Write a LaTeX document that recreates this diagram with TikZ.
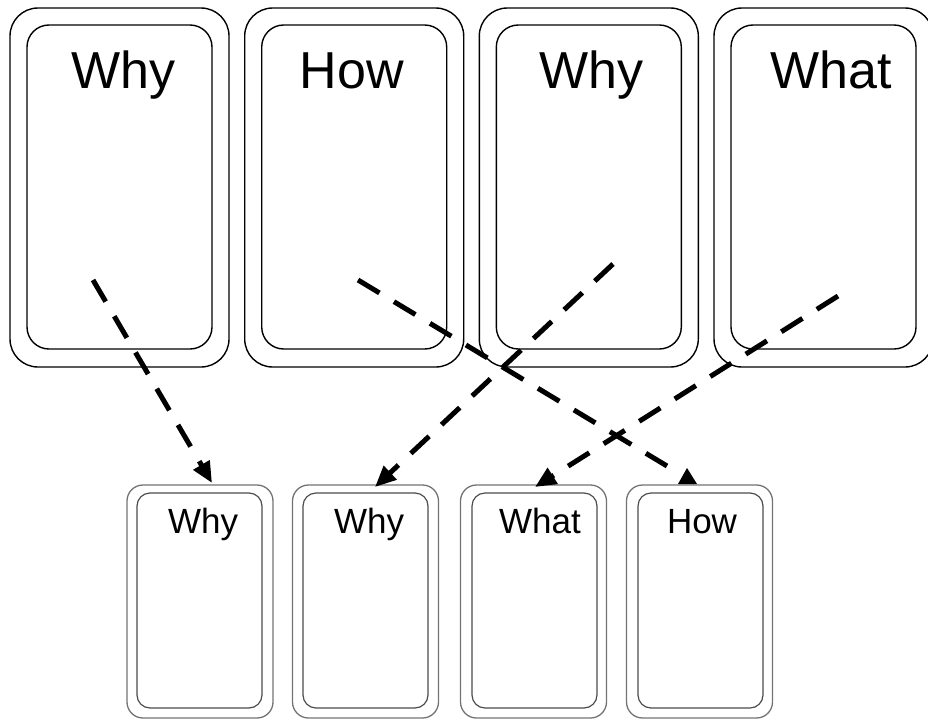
\documentclass[tikz,border=0pt]{standalone}
\usepackage{fontspec}
\setmainfont{Liberation Sans}
\usetikzlibrary{arrows.meta,calc}
\begin{document}
\begin{tikzpicture}[x=1pt,y=-1pt,
  bigouter/.style={draw, line width=1.4pt, rounded corners=28pt,
    minimum width=219pt, minimum height=359pt, inner sep=0pt},
  biginner/.style={draw, line width=1.4pt, rounded corners=22pt,
    minimum width=185pt, minimum height=324pt, inner sep=0pt},
  bigtext/.style={anchor=base, inner sep=0pt, font=\fontsize{52}{60}\selectfont},
  smallouter/.style={draw=black!55, line width=1.3pt, rounded corners=16pt,
    minimum width=146pt, minimum height=233pt, inner sep=0pt},
  smallinner/.style={draw=black!70, line width=1.2pt, rounded corners=13pt,
    minimum width=125pt, minimum height=215pt, inner sep=0pt},
  smalltext/.style={anchor=base, inner sep=0pt, font=\fontsize{35}{40}\selectfont},
  plainconn/.style={line width=5pt, dash pattern=on 25pt off 17pt},
  conn/.style={plainconn, -{Triangle[length=21pt,width=18pt]}}
]
\useasboundingbox (0,0) rectangle (928,720);

% upper row of cards
\node[bigouter] (T1o) at (119.5,187.5) {};
\node[biginner] (T1) at (119.5,187) {};
\node[bigtext] (T1l) at (123,88) {Why};

\node[bigouter] (T2o) at (354.2,187.5) {};
\node[biginner] (T2) at (354.2,187) {};
\node[bigtext] (T2l) at (352,88) {How};

\node[bigouter] (T3o) at (588.8,187.5) {};
\node[biginner] (T3) at (588.8,187) {};
\node[bigtext] (T3l) at (591,88) {Why};

\node[bigouter] (T4o) at (823.5,187.5) {};
\node[biginner] (T4) at (823.5,187) {};
\node[bigtext] (T4l) at (831,88) {What};

% lower row of cards
\node[smallouter] (B1o) at (200,601.5) {};
\node[smallinner] (B1) at (199.5,600.5) {};
\node[smalltext] (B1l) at (203,533) {Why};

\node[smallouter] (B2o) at (365.5,601.5) {};
\node[smallinner] (B2) at (365.5,600.5) {};
\node[smalltext] (B2l) at (369,533) {Why};

\node[smallouter] (B3o) at (533.5,601.5) {};
\node[smallinner] (B3) at (534.5,600.5) {};
\node[smalltext] (B3l) at (540,533) {What};

\node[smallouter] (B4o) at (699.5,601.5) {};
\node[smallinner] (B4) at (700.5,600.5) {};
\node[smalltext] (B4l) at (702,533) {How};

% connector end points
\coordinate (s1) at (93,280);
\coordinate (e1) at (212,483);
\coordinate (s2) at (358,280);
\coordinate (e2) at (667,466);
\coordinate (s3) at (613,264);
\coordinate (e3) at (375,487);
\coordinate (s4) at (838,296);
\coordinate (e4) at (535,487);

% dashed connectors
\draw[conn] (s1) -- (e1);
\draw[plainconn] (s2) -- (e2);
\fill (687,468) -- (697,484) -- (678,484) -- cycle;
\draw[conn] (s3) -- (e3);
\draw[conn] (s4) -- (e4);
\end{tikzpicture}
\end{document}
